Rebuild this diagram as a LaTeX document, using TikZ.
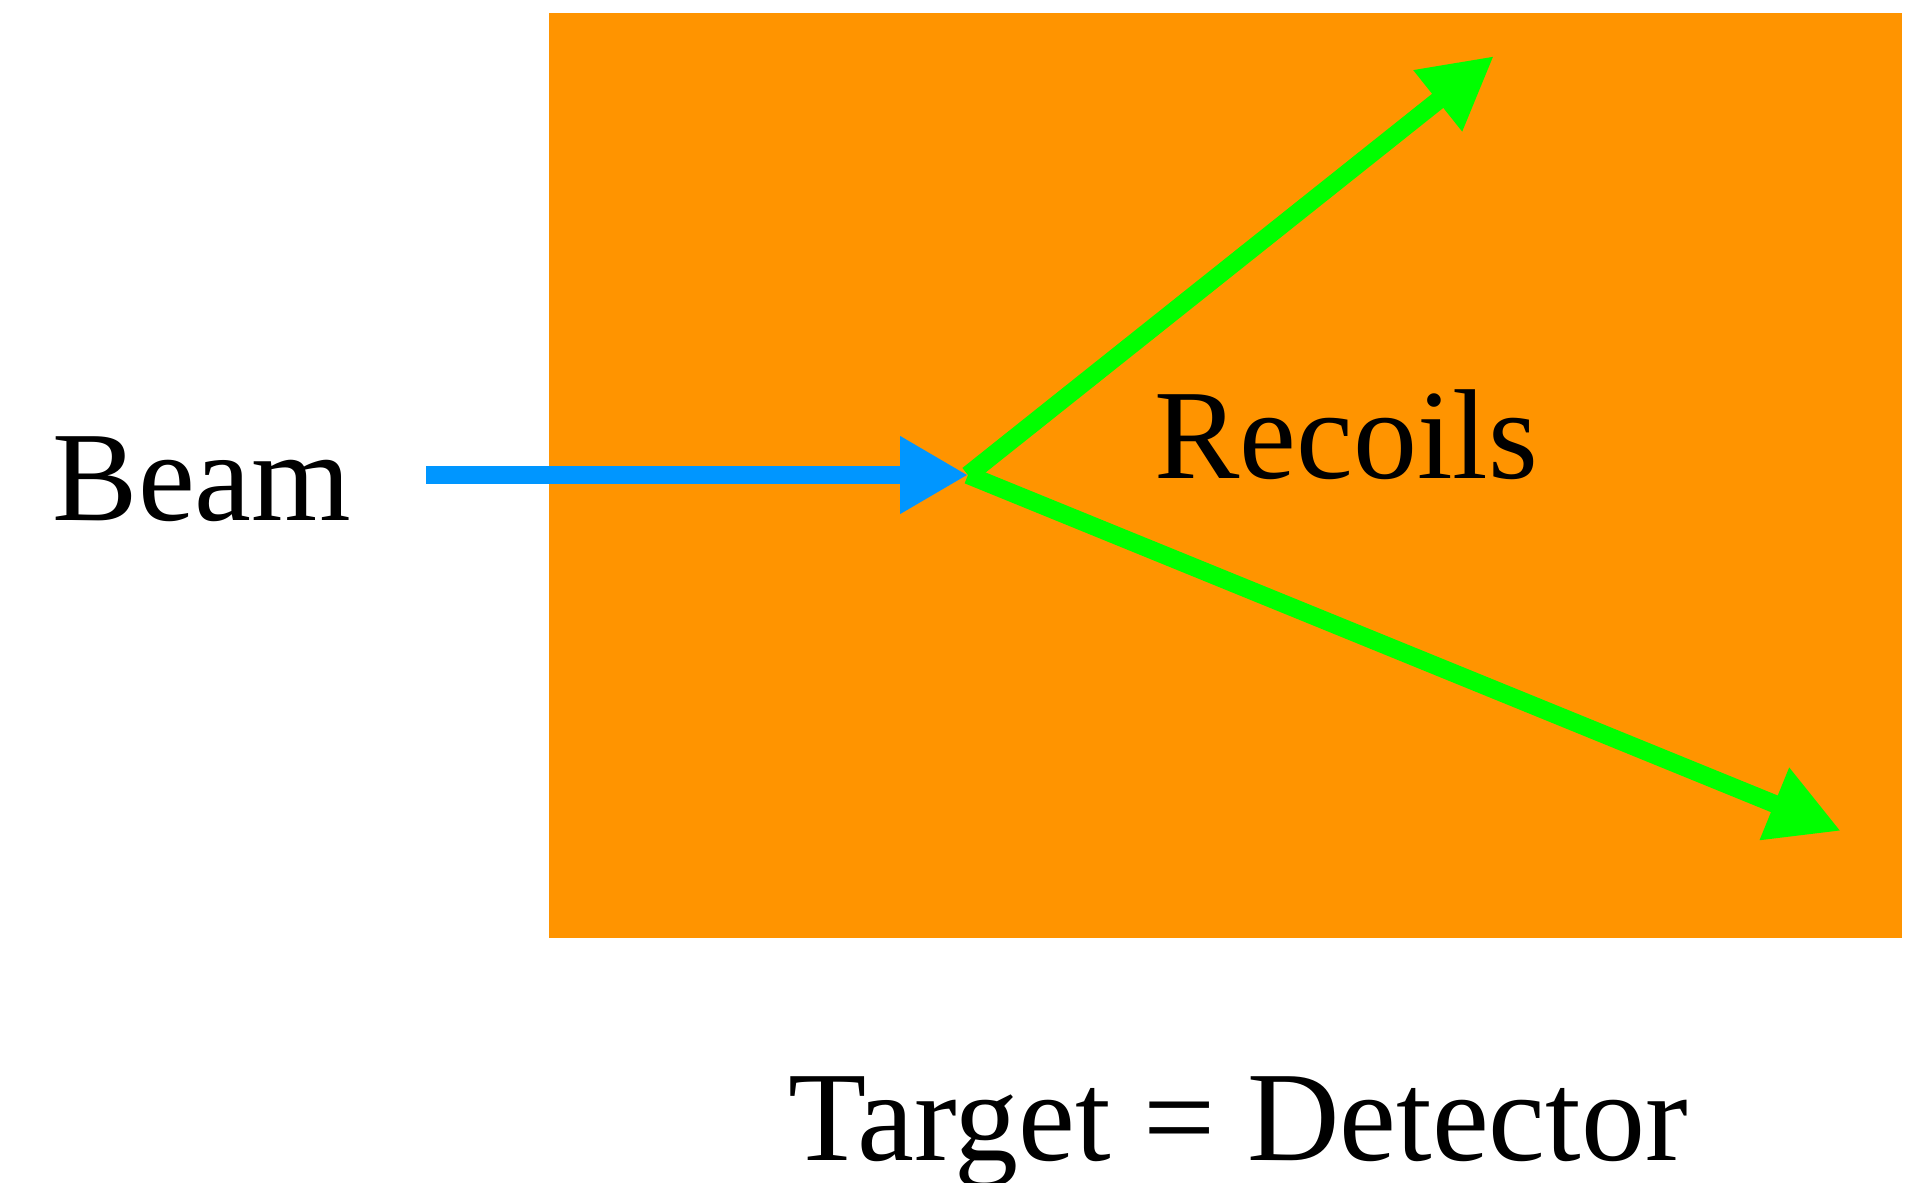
\documentclass[tikz,border=0pt]{standalone}
\usepackage{fontspec}
\setmainfont{Liberation Serif}
\usetikzlibrary{arrows.meta}
\definecolor{targetorange}{RGB}{255,148,0}
\definecolor{beamblue}{RGB}{0,150,255}
\definecolor{recoilgreen}{RGB}{0,255,0}
\tikzset{
  lbl/.style={inner sep=0pt, anchor=base, font=\fontsize{64}{70}\selectfont},
  beamarrow/.style={draw=beamblue, line width=9pt, -{Triangle[length=34pt,width=36.5pt]}},
  recoilarrow/.style={draw=recoilgreen, line width=9pt, -{Triangle[length=36pt,width=36.5pt]}}
}
\begin{document}
\begin{tikzpicture}[x=0.5pt,y=-0.5pt]
\useasboundingbox (0,0) rectangle (1920,1182);
\fill[white] (0,0) rectangle (1920,1182);
\fill[targetorange] (549,13) rectangle (1902,938);
\coordinate (bstart) at (426,475);
\coordinate (vertex) at (968,475);
\coordinate (up) at (1494,56);
\coordinate (down) at (1841,831);
\draw[beamarrow] (bstart) -- (vertex);
\draw[recoilarrow] (vertex) -- (up);
\draw[recoilarrow] (vertex) -- (down);
\node[lbl] (beam) at (202,520) {Beam};
\node[lbl] (recoils) at (1346,478) {Recoils};
\node[lbl] (target) at (1238,1160) {Target = Detector};
\end{tikzpicture}
\end{document}
